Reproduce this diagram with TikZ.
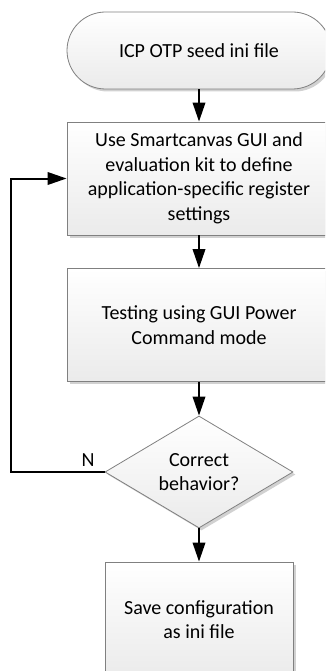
\documentclass[tikz,border=0pt]{standalone}
\usepackage{fontspec}
\setmainfont{Carlito}
\usetikzlibrary{arrows.meta,shapes.geometric,shapes.misc,shadows}
\begin{document}
\begin{tikzpicture}[x=1pt,y=-1pt,
  txt/.style={font=\fontsize{20}{24.5}\selectfont},
  shapebase/.style={txt, draw=black!50, line width=0.8pt, top color=white, bottom color=black!8,
    drop shadow={shadow xshift=2.5pt, shadow yshift=-2.5pt, fill=black!18, opacity=1},
    align=center, inner sep=0pt},
  termbox/.style={shapebase, rounded rectangle, minimum width=264pt, minimum height=77pt},
  procbox/.style={shapebase, rectangle, minimum width=264pt, minimum height=113pt},
  smallbox/.style={shapebase, rectangle, minimum width=188pt, minimum height=115pt},
  decbox/.style={shapebase, diamond, aspect=1.68, minimum width=188pt, minimum height=112pt},
  arr/.style={draw=black, line width=2pt, -{Triangle[length=19pt,width=12.5pt]}},
  lbl/.style={txt, inner sep=0pt}
]
\useasboundingbox (0,0) rectangle (325,671);
\clip (0,0) rectangle (325,671);

\node[termbox] (start) at (199,50.5) {ICP OTP seed ini file};
\node[procbox] (b1) at (199,178.5) {Use Smartcanvas GUI and\\evaluation kit to define\\application-specific register\\settings};
\node[procbox] (b2) at (199,325) {Testing using GUI Power\\Command mode};
\node[decbox] (dec) at (199,472) {Correct\\behavior?};
\node[smallbox] (b3) at (199,619.5) {Save configuration\\as ini file};

\coordinate (lp) at (11,472);

\draw[arr] (start.south) -- (b1.north);
\draw[arr] (b1.south) -- (b2.north);
\draw[arr] (b2.south) -- (dec.north);
\draw[arr] (dec.south) -- (b3.north);
\draw[arr] (dec.west) -- (lp) |- (b1.west);

\node[lbl] (nlab) at (88,460.5) {N};
\end{tikzpicture}
\end{document}
